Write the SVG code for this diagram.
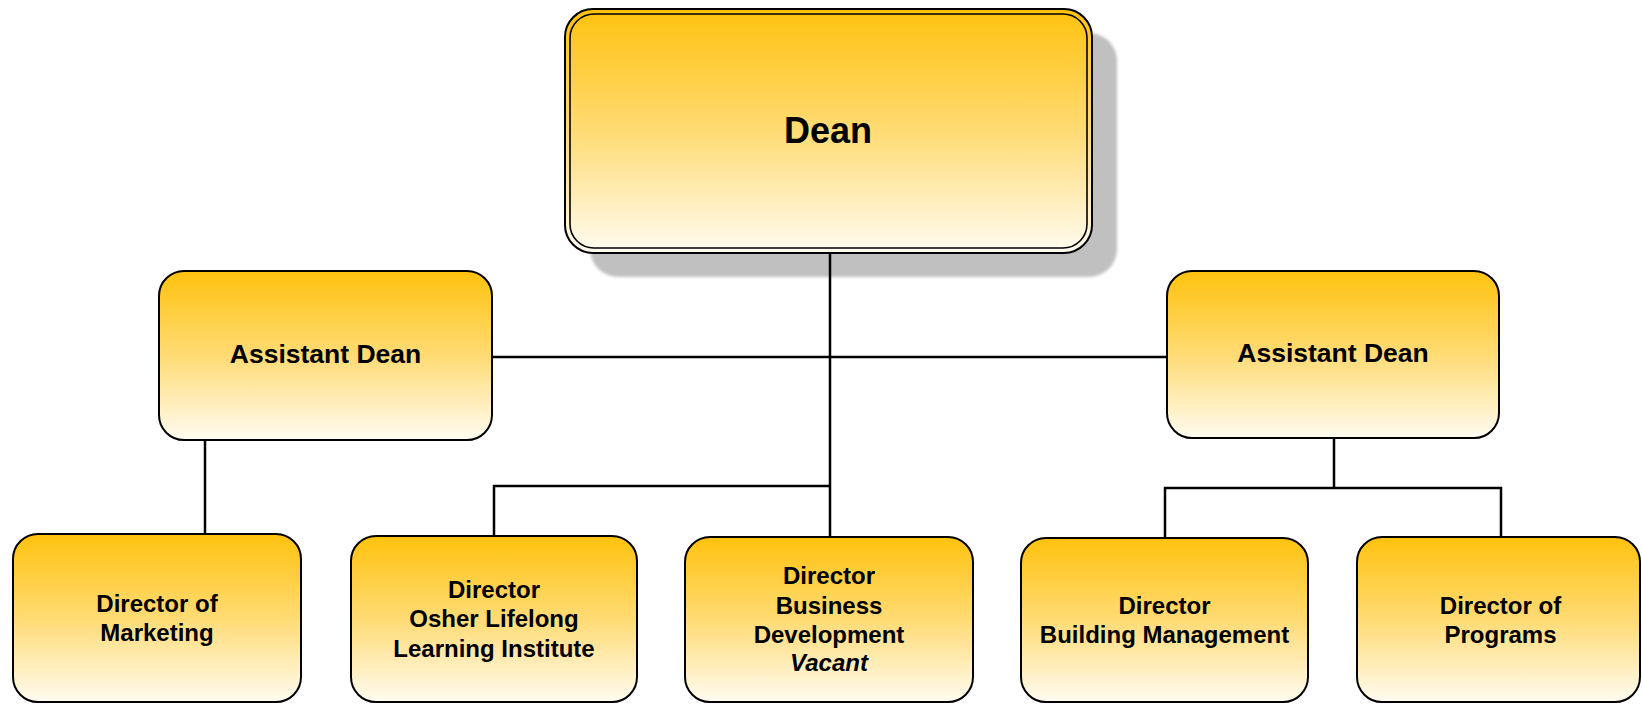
<svg xmlns="http://www.w3.org/2000/svg" width="1642" height="704" viewBox="0 0 1642 704">
<defs>
<linearGradient id="g" x1="0" y1="0" x2="0" y2="1">
<stop offset="0" stop-color="#FFC20E"/>
<stop offset="0.5" stop-color="#FFDB74"/>
<stop offset="1" stop-color="#FFFCF2"/>
</linearGradient>
<filter id="blur" x="-5%" y="-5%" width="110%" height="110%"><feGaussianBlur stdDeviation="1.5"/></filter>
</defs>
<style>
.box{fill:url(#g);stroke:#000;stroke-width:2}
.inner{fill:none;stroke:#000;stroke-width:1.6}
.t{font-family:"Liberation Sans",Arial,sans-serif;font-weight:bold;fill:#000;text-anchor:middle}
.s{font-size:24px}
.m{font-size:26.5px}
.c{stroke:#000;stroke-width:2.5;fill:none}
</style>
<g id="dean">
<rect x="590" y="33" width="527" height="244" rx="28" fill="#C0C0C0" filter="url(#blur)"/>
<rect class="box" x="565" y="9" width="527" height="244" rx="28"/>
<rect class="inner" x="570" y="14" width="517" height="234" rx="24"/>
<text class="t" x="828" y="143" font-size="36">Dean</text>
</g>
<g id="connectors">
<line class="c" x1="830" y1="254" x2="830" y2="537"/>
<line class="c" x1="492" y1="357" x2="1167" y2="357"/>
<polyline class="c" points="830,486 494,486 494,536"/>
<line class="c" x1="205" y1="440" x2="205" y2="534"/>
<line class="c" x1="1334" y1="438" x2="1334" y2="488"/>
<polyline class="c" points="1165,538 1165,488 1501,488 1501,537"/>
</g>
<g id="asst-dean-left">
<rect class="box" x="159" y="271" width="333" height="169" rx="25"/>
<text class="t m" x="325.5" y="363">Assistant Dean</text>
</g>
<g id="asst-dean-right">
<rect class="box" x="1167" y="271" width="332" height="167" rx="25"/>
<text class="t m" x="1333" y="362">Assistant Dean</text>
</g>
<g id="dir-marketing">
<rect class="box" x="13" y="534" width="288" height="168" rx="25"/>
<text class="t s" x="157" y="611.5">Director of</text>
<text class="t s" x="157" y="641">Marketing</text>
</g>
<g id="dir-osher">
<rect class="box" x="351" y="536" width="286" height="166" rx="25"/>
<text class="t s" x="494" y="598">Director</text>
<text class="t s" x="494" y="627">Osher Lifelong</text>
<text class="t s" x="494" y="656.5">Learning Institute</text>
</g>
<g id="dir-business">
<rect class="box" x="685" y="537" width="288" height="165" rx="25"/>
<text class="t s" x="829" y="584">Director</text>
<text class="t s" x="829" y="613.5">Business</text>
<text class="t s" x="829" y="643">Development</text>
<text class="t s" x="829" y="671" font-style="italic">Vacant</text>
</g>
<g id="dir-building">
<rect class="box" x="1021" y="538" width="287" height="164" rx="25"/>
<text class="t s" x="1164.5" y="613.5">Director</text>
<text class="t s" x="1164.5" y="643">Building Management</text>
</g>
<g id="dir-programs">
<rect class="box" x="1357" y="537" width="283" height="165" rx="25"/>
<text class="t s" x="1500.5" y="613.5">Director of</text>
<text class="t s" x="1500.5" y="643">Programs</text>
</g>
</svg>
